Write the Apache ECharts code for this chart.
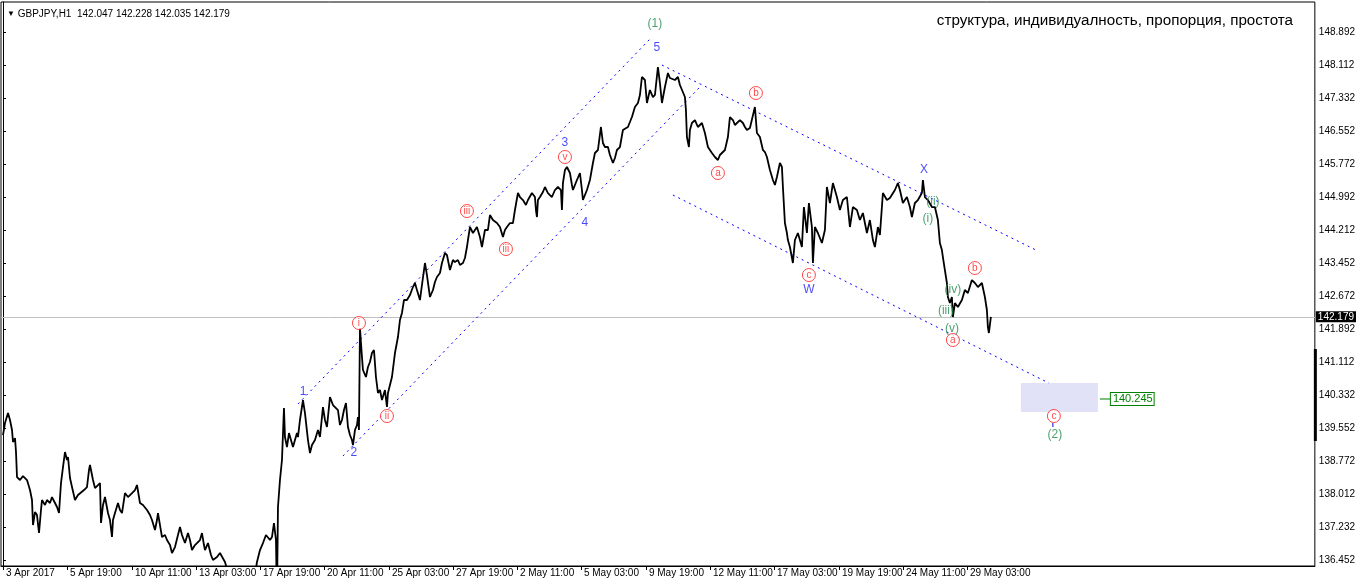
<!DOCTYPE html>
<html>
<head>
<meta charset="utf-8">
<script src="https://cdn.jsdelivr.net/npm/echarts@6/dist/echarts.min.js"></script>
<style>
html,body{margin:0;padding:0;background:#fff;}
#c{width:1358px;height:584px;}
</style>
</head>
<body>
<div id="c"></div>
<script>
// ---- time axis (bar index) tick positions and labels ----
const xTickIdx = [0,64,129,193,257,321,386,450,514,578,643,707,771,836,900,964];
const xTickLabels = ['3 Apr 2017','5 Apr 19:00','10 Apr 11:00','13 Apr 03:00','17 Apr 19:00','20 Apr 11:00','25 Apr 03:00','27 Apr 19:00','2 May 11:00','5 May 03:00','9 May 19:00','12 May 11:00','17 May 03:00','19 May 19:00','24 May 11:00','29 May 03:00'];
// ---- price axis tick labels ----
const yTicks = [136.452,137.232,138.012,138.772,139.552,140.332,141.112,141.892,142.672,143.452,144.212,144.992,145.772,146.552,147.332,148.112,148.892];

// ---- GBPJPY H1 close (sampled), bar index and price ----
const barIdx = [0,2,5,7,9,10,12,13,14,17,20,24,27,29,30,32,34,36,38,39,42,44,47,49,52,54,56,58,60,62,64,65,67,69,72,75,77,81,84,86,87,90,92,94,97,98,100,102,105,107,109,110,112,115,117,119,122,125,129,132,134,137,140,144,147,149,152,154,155,157,159,162,164,167,169,172,175,177,179,182,185,187,189,192,194,197,199,201,202,205,208,210,214,217,219,222,225,232,242,252,254,257,260,263,265,267,269,271,273,274,275,277,279,281,282,284,286,288,290,292,294,295,297,300,302,305,307,309,312,315,317,320,322,324,327,330,332,335,337,339,341,343,345,347,349,350,352,354,355,356,357,359,360,362,363,365,367,369,371,373,375,377,379,382,384,385,387,389,392,395,397,399,401,404,407,410,412,414,417,419,422,424,427,430,432,434,437,439,442,444,445,447,450,452,455,457,460,462,464,465,467,470,472,474,477,479,482,485,487,490,494,497,500,502,504,507,510,512,515,517,520,523,525,529,532,533,534,535,537,540,542,545,547,549,552,555,558,559,560,562,564,567,569,570,572,574,577,579,580,582,584,587,590,592,595,598,600,602,605,607,610,612,614,617,620,622,625,627,629,632,635,637,639,642,644,647,650,652,654,655,657,659,662,665,667,669,672,675,677,679,682,683,684,686,687,689,692,695,697,699,702,705,707,709,712,715,717,719,722,725,727,730,732,734,737,740,742,744,747,749,752,754,757,760,762,764,767,770,772,774,777,779,780,782,784,785,787,790,792,795,797,799,801,804,806,809,810,812,815,817,819,822,824,827,830,832,834,837,840,844,847,850,854,857,860,864,867,870,872,875,877,879,880,884,887,889,892,895,897,900,904,907,909,912,915,919,920,922,925,929,932,935,937,939,940,942,944,945,947,949,950,952,955,959,962,965,969,972,975,979,982,984,985,986,988];
const closePrice = [139.396,139.679,139.914,139.750,139.514,139.231,139.325,138.996,138.406,138.336,138.430,138.336,138.100,137.865,137.275,137.582,137.511,137.087,137.629,137.865,137.747,137.865,137.794,137.935,137.794,137.700,137.558,138.265,138.642,138.996,138.807,138.878,138.383,138.171,137.865,137.982,137.935,138.100,138.171,138.571,138.689,138.336,138.147,138.171,138.265,137.323,137.747,137.935,137.558,137.393,136.993,137.393,137.558,137.794,137.629,137.558,138.029,137.935,138.029,138.100,138.218,137.794,137.747,137.629,137.511,137.393,137.158,137.393,137.558,137.275,136.993,137.040,136.922,136.804,136.616,136.757,137.040,137.228,137.040,136.851,137.087,136.922,136.686,136.804,136.757,136.922,137.087,136.804,136.686,136.851,136.569,136.451,136.521,136.616,136.569,136.404,136.168,135.862,135.744,136.097,136.404,136.686,136.851,137.040,137.087,136.922,136.993,137.323,136.922,135.508,137.700,138.336,138.807,140.032,139.349,139.113,139.443,139.278,139.113,139.278,139.443,139.349,139.750,140.221,139.914,139.278,138.972,139.160,139.278,139.514,139.349,140.056,139.750,139.585,140.291,140.103,140.056,139.985,139.632,139.750,139.985,140.150,139.585,139.396,139.278,139.160,139.514,139.632,139.820,139.514,141.917,141.234,140.928,140.881,140.763,140.998,141.116,141.328,141.399,140.763,140.386,140.456,140.221,140.456,140.056,140.386,140.574,140.763,141.328,141.705,142.106,142.271,142.577,142.577,142.695,142.883,142.978,142.813,142.577,142.931,143.449,143.166,142.648,142.813,143.001,143.119,143.213,143.449,143.685,143.637,143.590,143.284,143.520,143.472,143.520,143.402,143.449,143.567,143.826,143.991,144.297,144.156,144.227,144.297,144.062,143.826,144.227,144.227,144.580,144.462,144.391,144.297,144.062,144.227,144.297,144.391,144.391,144.698,145.098,145.004,144.933,144.816,144.933,145.098,145.004,144.698,144.533,144.933,145.004,145.122,145.240,145.098,145.051,145.004,145.169,145.240,145.169,144.698,145.334,145.640,145.711,145.570,145.287,145.169,145.287,145.405,145.570,145.169,144.933,145.051,145.169,145.405,145.805,146.041,146.112,146.654,146.277,146.182,146.182,145.994,145.805,145.923,146.112,146.182,146.583,146.630,146.654,146.771,146.889,147.125,147.219,147.408,147.832,147.761,147.219,147.525,147.360,147.408,147.455,148.067,147.690,147.219,147.596,147.926,147.808,147.832,147.761,147.832,147.643,147.690,147.360,147.054,146.418,146.182,146.583,146.748,146.818,146.654,146.701,146.748,146.512,146.182,146.112,146.041,145.947,145.876,145.994,146.041,146.112,146.418,146.889,146.818,146.701,146.748,146.818,146.748,146.654,146.583,146.630,146.583,147.125,146.512,146.418,146.112,146.064,145.947,145.640,145.405,145.287,145.475,145.805,145.711,145.240,144.391,144.156,143.991,143.826,143.449,143.991,144.156,143.991,143.826,144.768,144.156,144.863,144.297,143.449,144.297,144.156,144.038,143.920,144.227,145.240,144.863,145.334,145.169,145.004,144.698,144.933,145.004,144.297,144.768,144.698,144.462,144.627,144.156,144.462,143.991,143.826,144.297,144.109,144.156,145.098,144.933,144.981,145.004,145.169,145.334,145.169,144.863,145.004,144.768,144.533,144.863,144.933,145.098,145.405,145.004,144.933,144.768,144.768,144.462,143.920,143.755,143.590,143.284,142.978,142.648,142.506,142.648,142.177,142.506,142.412,142.577,142.813,142.742,143.048,142.978,142.883,142.978,142.648,142.342,141.941,141.800,142.179];

const lastPrice = 142.179;
const titleText = 'GBPJPY,H1  142.047 142.228 142.035 142.179';
const noteText = 'структура, индивидуалность, пропорция, простота';

// ---- channel lines: [startIdx, startPrice, endIdx, endPrice] ----
const channelLines = [
  [295,140.127,648,148.751],
  [340,138.901,697,147.596],
  [659,148.114,1035,143.732],
  [670,145.051,1046,140.621]
];
// ---- target zone ----
const zoneIdx = [1018,1095];
const zonePrice = [140.622,139.938];
const targetPrice = 140.245;
const targetIdx = [1097,1108];
// ---- scale range marker on price axis ----
const scaleMarkIdx = 1312.5;
const scaleMarkPrice = [141.423,139.255];
// ---- small arrow under last circled label ----
const arrowIdx = 1050;
const arrowPrice = [139.679,139.585];

// ---- wave labels ----
const redNames = ['i','ii','iii','iii','v','a','b','c','b','a','c'];
const redIdx = [356,384,464,503,562,715,753,806,972,950,1051];
const redPrice = [142.035,139.844,144.674,143.779,145.947,145.570,147.455,143.166,143.331,141.635,139.844];
const blueNames = ['1','2','3','4','5','W','X'];
const blueIdx = [300,351,562,582,654,806,921];
const bluePrice = [140.409,138.972,146.277,144.391,148.515,142.813,145.640];
const greenNames = ['(1)','(i)','(ii)','(iii)','(iv)','(v)','(2)'];
const greenIdx = [652,925,930,943,950,949,1052];
const greenPrice = [149.080,144.486,144.887,142.318,142.813,141.894,139.396];

const FONT = 'Liberation Sans';
const chart = echarts.init(document.getElementById('c'), null, {renderer:'canvas'});

const priceData = barIdx.map((x,i)=>[x, closePrice[i]]);
const series = [];

series.push({
  type:'line', name:'price', data: priceData, showSymbol:false, z:5,
  lineStyle:{color:'#000', width:1.8}, clip:true,
  markLine:{
    silent:true, symbol:'none', z:1,
    lineStyle:{color:'#c0c0c0', width:1, type:'solid'},
    label:{show:true, position:'end', formatter: String(lastPrice), color:'#fff', backgroundColor:'#000',
           padding:[1,2,0,2], fontSize:10, fontFamily:FONT, distance:1},
    data:[{yAxis:lastPrice}]
  },
  markArea:{
    silent:true, itemStyle:{color:'#e1e1f8'},
    data:[[{coord:[zoneIdx[0], zonePrice[0]]},{coord:[zoneIdx[1], zonePrice[1]]}]]
  }
});

channelLines.forEach(l=>{
  series.push({type:'line', data:[[l[0],l[1]],[l[2],l[3]]], showSymbol:false, z:4,
    lineStyle:{color:'#0000ff', width:1, type:[2,4]}});
});

series.push({type:'line', data:[[targetIdx[0],targetPrice],[targetIdx[1],targetPrice]], showSymbol:false, z:4,
  lineStyle:{color:'#008000', width:1}, clip:false,
  endLabel:{show:true, formatter:String(targetPrice), color:'#008000', borderColor:'#008000', borderWidth:1,
    backgroundColor:'#fff', padding:[1,1,0,2], fontSize:11, fontFamily:FONT, distance:0}
});

series.push({type:'line', data:[[scaleMarkIdx,scaleMarkPrice[0]],[scaleMarkIdx,scaleMarkPrice[1]]], showSymbol:false, z:6,
  clip:false, lineStyle:{color:'#000', width:3}});

series.push({type:'line', data:[[arrowIdx,arrowPrice[0]],[arrowIdx,arrowPrice[1]]], showSymbol:false, z:7,
  lineStyle:{color:'#0000ff', width:1}});

series.push({type:'scatter', z:8, symbol:'circle', symbolSize:13,
  itemStyle:{color:'#fff', borderColor:'#ff1a1a', borderWidth:1},
  label:{show:true, position:'inside', color:'#ff1a1a', fontSize:10, fontFamily:FONT, formatter:p=>p.name},
  data: redNames.map((n,i)=>({name:n, value:[redIdx[i], redPrice[i]]}))
});
series.push({type:'scatter', z:8, symbol:'circle', symbolSize:1,
  itemStyle:{color:'rgba(0,0,0,0)'},
  label:{show:true, position:'inside', color:'#1a1aff', fontSize:12, fontFamily:FONT, formatter:p=>p.name},
  data: blueNames.map((n,i)=>({name:n, value:[blueIdx[i], bluePrice[i]]}))
});
series.push({type:'scatter', z:8, symbol:'circle', symbolSize:1,
  itemStyle:{color:'rgba(0,0,0,0)'},
  label:{show:true, position:'inside', color:'#1f8a4c', fontSize:12, fontFamily:FONT, formatter:p=>p.name},
  data: greenNames.map((n,i)=>({name:n, value:[greenIdx[i], greenPrice[i]]}))
});

chart.setOption({
  animation:false,
  backgroundColor:'#fff',
  title:[
    {text:'{t|▼} '+titleText, left:2, top:4,
     textStyle:{fontSize:10, fontWeight:'normal', color:'#000', fontFamily:FONT,
       rich:{t:{fontSize:8, color:'#000'}}}},
    {text:noteText, right:60, top:8, textStyle:{fontSize:15.2, fontWeight:'normal', color:'#000', fontFamily:FONT}}
  ],
  grid:{left:1, top:2, right:43, bottom:18, show:true, borderColor:'#000', borderWidth:1, backgroundColor:'#fff'},
  xAxis:{
    type:'value', min:-2, max:1312,
    axisLine:{show:true, lineStyle:{color:'#000'}},
    axisTick:{show:true, customValues:xTickIdx, length:4, inside:false, lineStyle:{color:'#000'}},
    axisLabel:{show:true, customValues:xTickIdx, align:'left', margin:2, padding:[0,0,0,3],
      fontSize:10, fontFamily:FONT, color:'#000',
      formatter:v=>{const k=xTickIdx.indexOf(Math.round(v)); return k>=0?xTickLabels[k]:'';}},
    splitLine:{show:false}
  },
  yAxis:{
    type:'value', position:'right', min:136.310, max:149.599, scale:true,
    axisLine:{show:true, lineStyle:{color:'#000'}},
    axisTick:{show:true, customValues:yTicks, length:3, lineStyle:{color:'#000'}},
    axisLabel:{show:true, customValues:yTicks, margin:4, fontSize:10, fontFamily:FONT, color:'#000',
      formatter:v=>v.toFixed(3)},
    splitLine:{show:false}
  },
  series: series
});
</script>
</body>
</html>
